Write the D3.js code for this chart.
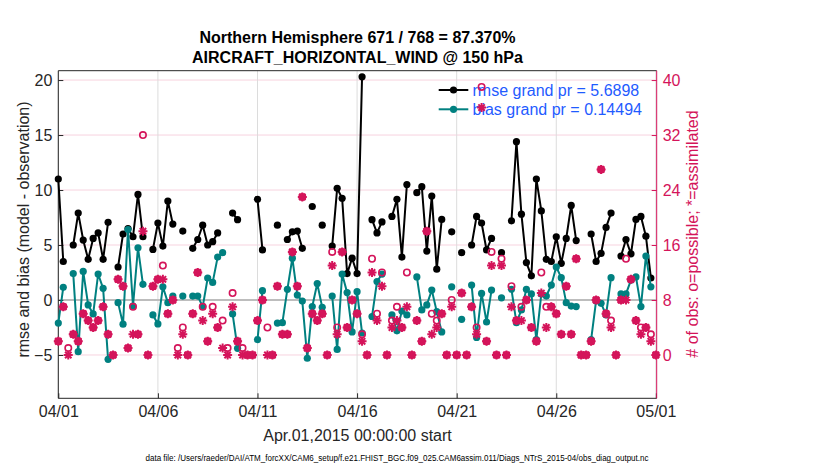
<!DOCTYPE html>
<html><head><meta charset="utf-8">
<script src="https://cdn.jsdelivr.net/npm/d3@7"></script>
<style>
html,body{margin:0;padding:0;background:#fff;}
svg text{font-family:"Liberation Sans",Arial,Helvetica,sans-serif;}
</style></head>
<body><svg id="chart" width="830" height="470"></svg>
<script>
// ---------------- data ----------------
const startTime = "2015-04-01T00:00:00Z";
const stepHours = 6;
const xTickDates = ["2015-04-01","2015-04-06","2015-04-11","2015-04-16","2015-04-21","2015-04-26","2015-05-01"];
const leftTicks = [-5, 0, 5, 10, 15, 20];
const rightTicks = [0, 8, 16, 24, 32, 40];
const titleLines = ["Northern Hemisphere 671 / 768 = 87.370%", "AIRCRAFT_HORIZONTAL_WIND @ 150 hPa"];
const legendLabels = ["rmse grand pr = 5.6898", "bias grand pr = 0.14494"];
const xLabel = "Apr.01,2015 00:00:00 start";
const yLabelLeft = "rmse and bias (model - observation)";
const yLabelRight = "# of obs: o=possible; *=assimilated";
const footnote = "data file: /Users/raeder/DAI/ATM_forcXX/CAM6_setup/f.e21.FHIST_BGC.f09_025.CAM6assim.011/Diags_NTrS_2015-04/obs_diag_output.nc";

const rmse = [
 11.0, 3.5, null, 5.0, 7.9, 5.45, 3.7, 5.6, 6.1, 3.7,
 7.06, null, 3.0, 6.0, 6.5, 5.75, 9.6, 5.75, null, 4.6,
 7.0, 4.9, 9.0, 6.9, null, 6.27, null, 4.7, 5.5, 6.8,
 5.0, 5.3, 6.1, null, null, 7.9, 7.3, null, null, null,
 9.15, 4.55, null, null, 6.8, null, 5.5, 6.2, 6.27, 4.7,
 null, 8.5, null, 6.8, null, 4.9, 10.15, 9.25, 2.4, 3.8,
 2.4, 20.3, null, 7.3, 6.1, 7.1, null, 7.6, 9.15, 3.9,
 10.5, null, 9.76, 10.3, 4.45, 9.45, 2.8, 7.33, null, 6.2,
 null, 4.3, null, 5.0, 7.6, 7.0, 4.55, 5.6, null, 4.3,
 null, 7.2, 14.4, 7.8, 3.4, 2.2, 11.0, 8.1, 3.7, 3.5,
 5.75, 3.33, 5.6, 8.6, 5.4, null, null, 6.0, 3.5, 4.24,
 6.6, 7.9, null, 4.0, 5.5, 4.2, 7.33, 7.6, 5.8, 2.0,
 null
];
const bias = [
 -2.1, 1.15, null, 2.4, -4.7, 2.6, -0.45, -1.27, 2.36, 1.06,
 -5.4, null, -0.24, -2.2, 6.4, -0.55, 4.75, 1.42, null, -1.36,
 -2.18, 1.2, -0.24, 0.36, null, 0.36, null, 0.36, 0.36, -0.6,
 2.0, 1.6, 3.9, 4.3, null, -1.27, -4.4, null, null, null,
 -3.6, 0.85, null, null, -2.1, -2.06, 0.97, 3.8, 0.45, -0.1,
 -5.3, -0.6, 1.5, -0.67, null, 0.36, -4.5, 2.36, 0.67, -2.9,
 0.76, -3.0, null, -1.5, 1.67, 2.36, null, -1.36, -2.8, -1.0,
 -1.36, null, 2.1, -0.9, -0.45, 0.9, -1.06, -2.9, null, 1.2,
 null, -1.76, null, 1.36, -3.4, 0.6, -2.0, 0.9, null, 0.2,
 null, 0.97, -2.06, -0.9, 0.97, 0.55, -3.6, 0.55, 0.36, 1.36,
 3.0, 2.03, -0.24, -0.55, -0.6, null, null, -3.6, -0.06, -0.3,
 -1.36, 2.03, null, 0.55, 0.55, 1.8, 2.1, -0.6, 4.0, 1.2,
 null
];
const possible = [
 2, 7, 1, 3, 2, 6, 5, 4, 5, 7,
 3, 0, 11, 10, 1, 7, 3, 32, 0, 10,
 11, 13, 6, 8, 1, 4, 0, 6, 12, 7,
 2, 7, 4, 5, 1, 9, 2, 1, 0, 0,
 5, 8, 4, 0, 10, 3, 3, 15, 10, 23,
 1, 6, 5, 6, 0, 15, 4, 15, 4, 8,
 6, 3, 0, 14, 6, 12, 0, 5, 7, 4,
 12, 0, 5, 2, 18, 6, 5, 6, 0, 8,
 0, 9, 0, 7, 4, 39, 2, 15, 0, 14,
 0, 10, 5, 7, 8, 4, 2, 12, 7, 7,
 6, 3, 10, 3, 14, 0, 0, 2, 8, 27,
 6, 5, 0, 8, 14, 11, 5, 4, 4, 3,
 0
];
const assimilated = [
 2, 7, 0, 3, 2, 6, 5, 4, 5, 7,
 3, 0, 11, 10, 1, 3, 3, 18, 0, 10,
 11, 11, 6, 8, 0, 3, 0, 6, 12, 5,
 2, 6, 4, 1, 0, 7, 2, 0, 0, 0,
 5, 8, 0, 0, 10, 3, 3, 15, 10, 23,
 1, 6, 5, 6, 0, 13, 3, 15, 4, 8,
 6, 2, 0, 12, 5, 10, 0, 4, 5, 4,
 7, 0, 5, 2, 18, 3, 4, 6, 0, 7,
 0, 9, 0, 7, 3, 36, 2, 13, 0, 13,
 0, 7, 5, 5, 8, 4, 2, 9, 4, 7,
 6, 3, 10, 3, 14, 0, 0, 2, 8, 27,
 6, 4, 0, 8, 8, 11, 5, 3, 4, 2,
 0
];

// ---------------- drawing ----------------
const svg = d3.select("#chart");
const L = 58.3, R = 656.7, T = 70.7, B = 398.3;
const crimson = "#d4145a", teal = "#008080", axisCol = "#262626";

const t0 = new Date(startTime).getTime();
const times = rmse.map((_, i) => new Date(t0 + i * stepHours * 3600e3));
const x = d3.scaleUtc()
  .domain([new Date("2015-04-01T00:00:00Z"), new Date("2015-05-01T01:00:00Z")])
  .range([L, R]);
const yL = d3.scaleLinear().domain([-8.94, 20.85]).range([B, T]);
const yR = d3.scaleLinear().domain([(-8.94 + 5) * 1.6, (20.85 + 5) * 1.6]).range([B, T]);
const tickDates = xTickDates.map(s => new Date(s + "T00:00:00Z"));

// grid
const grid = svg.append("g");
grid.selectAll(".hg").data(leftTicks).enter().append("line")
  .attr("x1", L).attr("x2", R).attr("y1", d => yL(d)).attr("y2", d => yL(d))
  .attr("stroke", "#f7d3df").attr("stroke-width", 1);
grid.selectAll(".vg").data(tickDates).enter().append("line")
  .attr("x1", d => x(d)).attr("x2", d => x(d)).attr("y1", T).attr("y2", B)
  .attr("stroke", "#dcdcdc").attr("stroke-width", 1);
grid.append("line").attr("x1", L).attr("x2", R).attr("y1", yL(0)).attr("y2", yL(0))
  .attr("stroke", "#bdbdbd").attr("stroke-width", 2.2);

// axes
const axL = svg.append("g").attr("transform", `translate(${L},0)`)
  .call(d3.axisLeft(yL).tickValues(leftTicks).tickSizeInner(-5).tickSizeOuter(0).tickPadding(6));
axL.select(".domain").remove();
axL.selectAll("line").attr("stroke", axisCol);
axL.selectAll("text").attr("fill", axisCol).style("font-size", "16px");

const axB = svg.append("g").attr("transform", `translate(0,${B})`)
  .call(d3.axisBottom(x).tickValues(tickDates).tickFormat(d3.utcFormat("%m/%d")).tickSizeInner(-5).tickSizeOuter(0).tickPadding(7));
axB.select(".domain").remove();
axB.selectAll("line").attr("stroke", axisCol);
axB.selectAll("text").attr("fill", axisCol).style("font-size", "16px");

const axR = svg.append("g").attr("transform", `translate(${R},0)`)
  .call(d3.axisRight(yR).tickValues(rightTicks).tickSizeInner(-5).tickSizeOuter(0).tickPadding(6));
axR.select(".domain").remove();
axR.selectAll("line").attr("stroke", crimson);
axR.selectAll("text").attr("fill", crimson).style("font-size", "16px");

// box
svg.append("line").attr("x1", L).attr("x2", R).attr("y1", T).attr("y2", T).attr("stroke", axisCol);
svg.append("line").attr("x1", L).attr("x2", R).attr("y1", B).attr("y2", B).attr("stroke", axisCol);
svg.append("line").attr("x1", L).attr("x2", L).attr("y1", T).attr("y2", B).attr("stroke", axisCol);
svg.append("line").attr("x1", R).attr("x2", R).attr("y1", T).attr("y2", B).attr("stroke", crimson);

// series
function drawSeries(vals, color) {
  const pts = vals.map((v, i) => ({ t: times[i], v }));
  const line = d3.line().defined(d => d.v != null).x(d => x(d.t)).y(d => yL(d.v));
  svg.append("path").datum(pts).attr("d", line)
    .attr("fill", "none").attr("stroke", color).attr("stroke-width", 2).attr("stroke-linejoin", "round");
  svg.append("g").selectAll("circle").data(pts.filter(d => d.v != null)).enter().append("circle")
    .attr("cx", d => x(d.t)).attr("cy", d => yL(d.v)).attr("r", 3.6).attr("fill", color);
}
drawSeries(rmse, "#000");
drawSeries(bias, teal);

// legend
const legend = svg.append("g");
[["#000", 90], [teal, 109.3]].forEach(([c, yy], i) => {
  legend.append("line").attr("x1", 438.7).attr("x2", 468.3).attr("y1", yy).attr("y2", yy)
    .attr("stroke", c).attr("stroke-width", 2);
  legend.append("circle").attr("cx", 453.5).attr("cy", yy).attr("r", 3.6).attr("fill", c);
  legend.append("text").attr("x", 472.5).attr("y", yy).attr("dy", "0.35em")
    .attr("fill", "#1f5bff").style("font-size", "16px").text(legendLabels[i]);
});

// counts (right axis)
const cnt = svg.append("g");
cnt.selectAll("circle").data(possible.map((v, i) => ({ t: times[i], v }))).enter().append("circle")
  .attr("cx", d => x(d.t)).attr("cy", d => yR(d.v)).attr("r", 3.2)
  .attr("fill", "none").attr("stroke", crimson).attr("stroke-width", 1.6);
const a = 4.5, b = 3.2;
const starPath = `M${-a},0L${a},0M0,${-a}L0,${a}M${-b},${-b}L${b},${b}M${-b},${b}L${b},${-b}`;
cnt.selectAll("path").data(assimilated.map((v, i) => ({ t: times[i], v }))).enter().append("path")
  .attr("transform", d => `translate(${x(d.t)},${yR(d.v)})`).attr("d", starPath)
  .attr("fill", "none").attr("stroke", crimson).attr("stroke-width", 2);

// titles and labels
svg.selectAll(".title").data(titleLines).enter().append("text")
  .attr("x", (L + R) / 2).attr("y", (d, i) => 43.3 + i * 20).attr("text-anchor", "middle")
  .style("font-size", "16px").style("font-weight", "bold").attr("fill", "#000").text(d => d);
svg.append("text").attr("transform", `translate(28.5,229.5) rotate(-90)`)
  .attr("text-anchor", "middle").style("font-size", "16px").attr("fill", axisCol).text(yLabelLeft);
svg.append("text").attr("transform", `translate(697.5,234) rotate(-90)`)
  .attr("text-anchor", "middle").style("font-size", "16px").attr("fill", crimson).text(yLabelRight);
svg.append("text").attr("x", (L + R) / 2).attr("y", 441).attr("text-anchor", "middle")
  .style("font-size", "16px").attr("fill", axisCol).text(xLabel);
svg.append("text").attr("x", 397).attr("y", 461).attr("text-anchor", "middle")
  .attr("textLength", 503).attr("lengthAdjust", "spacingAndGlyphs")
  .style("font-size", "8.5px").attr("fill", "#000").text(footnote);
</script>
</body></html>
